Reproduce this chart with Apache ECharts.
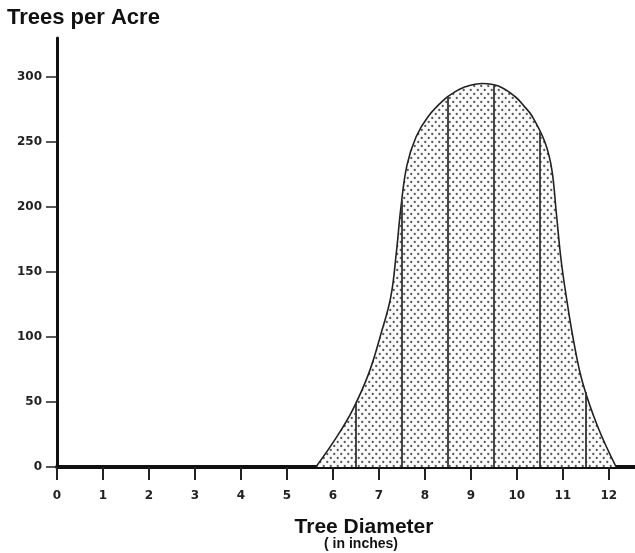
<!DOCTYPE html>
<html>
<head>
<meta charset="utf-8">
<title>Trees per Acre</title>
<script src="https://cdn.jsdelivr.net/npm/echarts@6/dist/echarts.min.js"></script>
<style>
	html, body { margin: 0; padding: 0; background: #fff; }
	#chart { width: 635px; height: 553px; }
</style>
</head>
<body>
<div id="chart"></div>
<script>
// curve: tree diameter (in) vs trees per acre
var diameter = [5.63, 6.08, 6.43, 6.78, 7.05, 7.26, 7.38, 7.48, 7.61, 7.81, 8.08, 8.43, 8.63, 8.84,
                9.26, 9.60, 9.96, 10.17, 10.33, 10.61, 10.76, 10.86, 10.96, 11.08, 11.24, 11.43, 11.76, 12.16];
var trees = [0, 23, 44, 72, 103, 131, 165, 200, 232, 254, 270, 283, 288, 292,
             295, 293, 285, 277, 270, 250, 229, 195, 160, 130, 96, 65, 31, 0];
// diameter class boundaries drawn as vertical lines under the curve
var classBounds = [6.5, 7.5, 8.5, 9.5, 10.5, 11.5];
var xTicks = [0, 1, 2, 3, 4, 5, 6, 7, 8, 9, 10, 11, 12];
var yTicks = [0, 50, 100, 150, 200, 250, 300];

var labelFont = '"DejaVu Sans", sans-serif';
var titleFont = '"Liberation Sans", Arial, sans-serif';

function curveAt(x) {
	var i;
	for (i = 0; i < diameter.length - 1; i++) {
		if (x >= diameter[i] && x <= diameter[i + 1]) {
			var t = (x - diameter[i]) / (diameter[i + 1] - diameter[i]);
			return trees[i] + t * (trees[i + 1] - trees[i]);
		}
	}
	return 0;
}

function dotPattern() {
	var c = document.createElement('canvas');
	c.width = 7;
	c.height = 8;
	var ctx = c.getContext('2d');
	ctx.fillStyle = '#fbfbfb';
	ctx.fillRect(0, 0, 7, 8);
	ctx.fillStyle = '#5a5a5a';
	ctx.beginPath();
	ctx.arc(1.75, 2, 1.15, 0, Math.PI * 2);
	ctx.fill();
	ctx.beginPath();
	ctx.arc(5.25, 6, 1.15, 0, Math.PI * 2);
	ctx.fill();
	return c;
}

var points = [];
var i;
for (i = 0; i < diameter.length; i++) {
	points.push([diameter[i], trees[i]]);
}

var bounds = [];
for (i = 0; i < classBounds.length; i++) {
	bounds.push([
		{ coord: [classBounds[i], 0] },
		{ coord: [classBounds[i], curveAt(classBounds[i])] }
	]);
}

var myChart = echarts.init(document.getElementById('chart'));

var option = {
	backgroundColor: '#fff',
	animation: false,
	title: {
		text: 'Trees per Acre',
		left: 7,
		top: 7,
		padding: 0,
		textStyle: { fontSize: 22, fontWeight: 'bold', fontFamily: titleFont, color: '#111' }
	},
	grid: { left: 57, right: 0, top: 38, bottom: 86, containLabel: false },
	xAxis: {
		type: 'value',
		min: 0,
		max: 12.57,
		splitLine: { show: false },
		axisLine: { onZero: false, lineStyle: { color: '#111', width: 4 } },
		axisTick: { customValues: xTicks, length: 13, lineStyle: { color: '#222', width: 2 } },
		axisLabel: {
			customValues: xTicks,
			margin: 23,
			fontSize: 12,
			fontWeight: 'bold',
			fontFamily: labelFont,
			color: '#222'
		}
	},
	yAxis: {
		type: 'value',
		min: 0,
		max: 330,
		splitLine: { show: false },
		axisLine: { show: true, onZero: false, lineStyle: { color: '#111', width: 3 } },
		axisTick: { show: true, customValues: yTicks, length: 11, lineStyle: { color: '#222', width: 1.5 } },
		axisLabel: {
			customValues: yTicks,
			margin: 15,
			fontSize: 12,
			fontWeight: 'bold',
			fontFamily: labelFont,
			color: '#222'
		}
	},
	graphic: [
		{
			type: 'text',
			x: 364,
			y: 527,
			style: {
				text: 'Tree Diameter',
				align: 'center',
				verticalAlign: 'middle',
				font: 'bold 21px ' + titleFont,
				fill: '#111'
			}
		},
		{
			type: 'text',
			x: 361,
			y: 544,
			style: {
				text: '( in inches)',
				align: 'center',
				verticalAlign: 'middle',
				font: 'bold 14px ' + titleFont,
				fill: '#111'
			}
		}
	],
	series: [
		{
			name: 'Trees per Acre',
			type: 'line',
			data: points,
			smooth: 0.4,
			symbol: 'none',
			lineStyle: { color: '#222', width: 1.6 },
			areaStyle: { color: { image: dotPattern(), repeat: 'repeat' }, opacity: 1 },
			markLine: {
				silent: true,
				symbol: 'none',
				label: { show: false },
				lineStyle: { color: '#333', type: 'solid', width: 1.8 },
				data: bounds
			}
		}
	]
};

myChart.setOption(option);
</script>
</body>
</html>
